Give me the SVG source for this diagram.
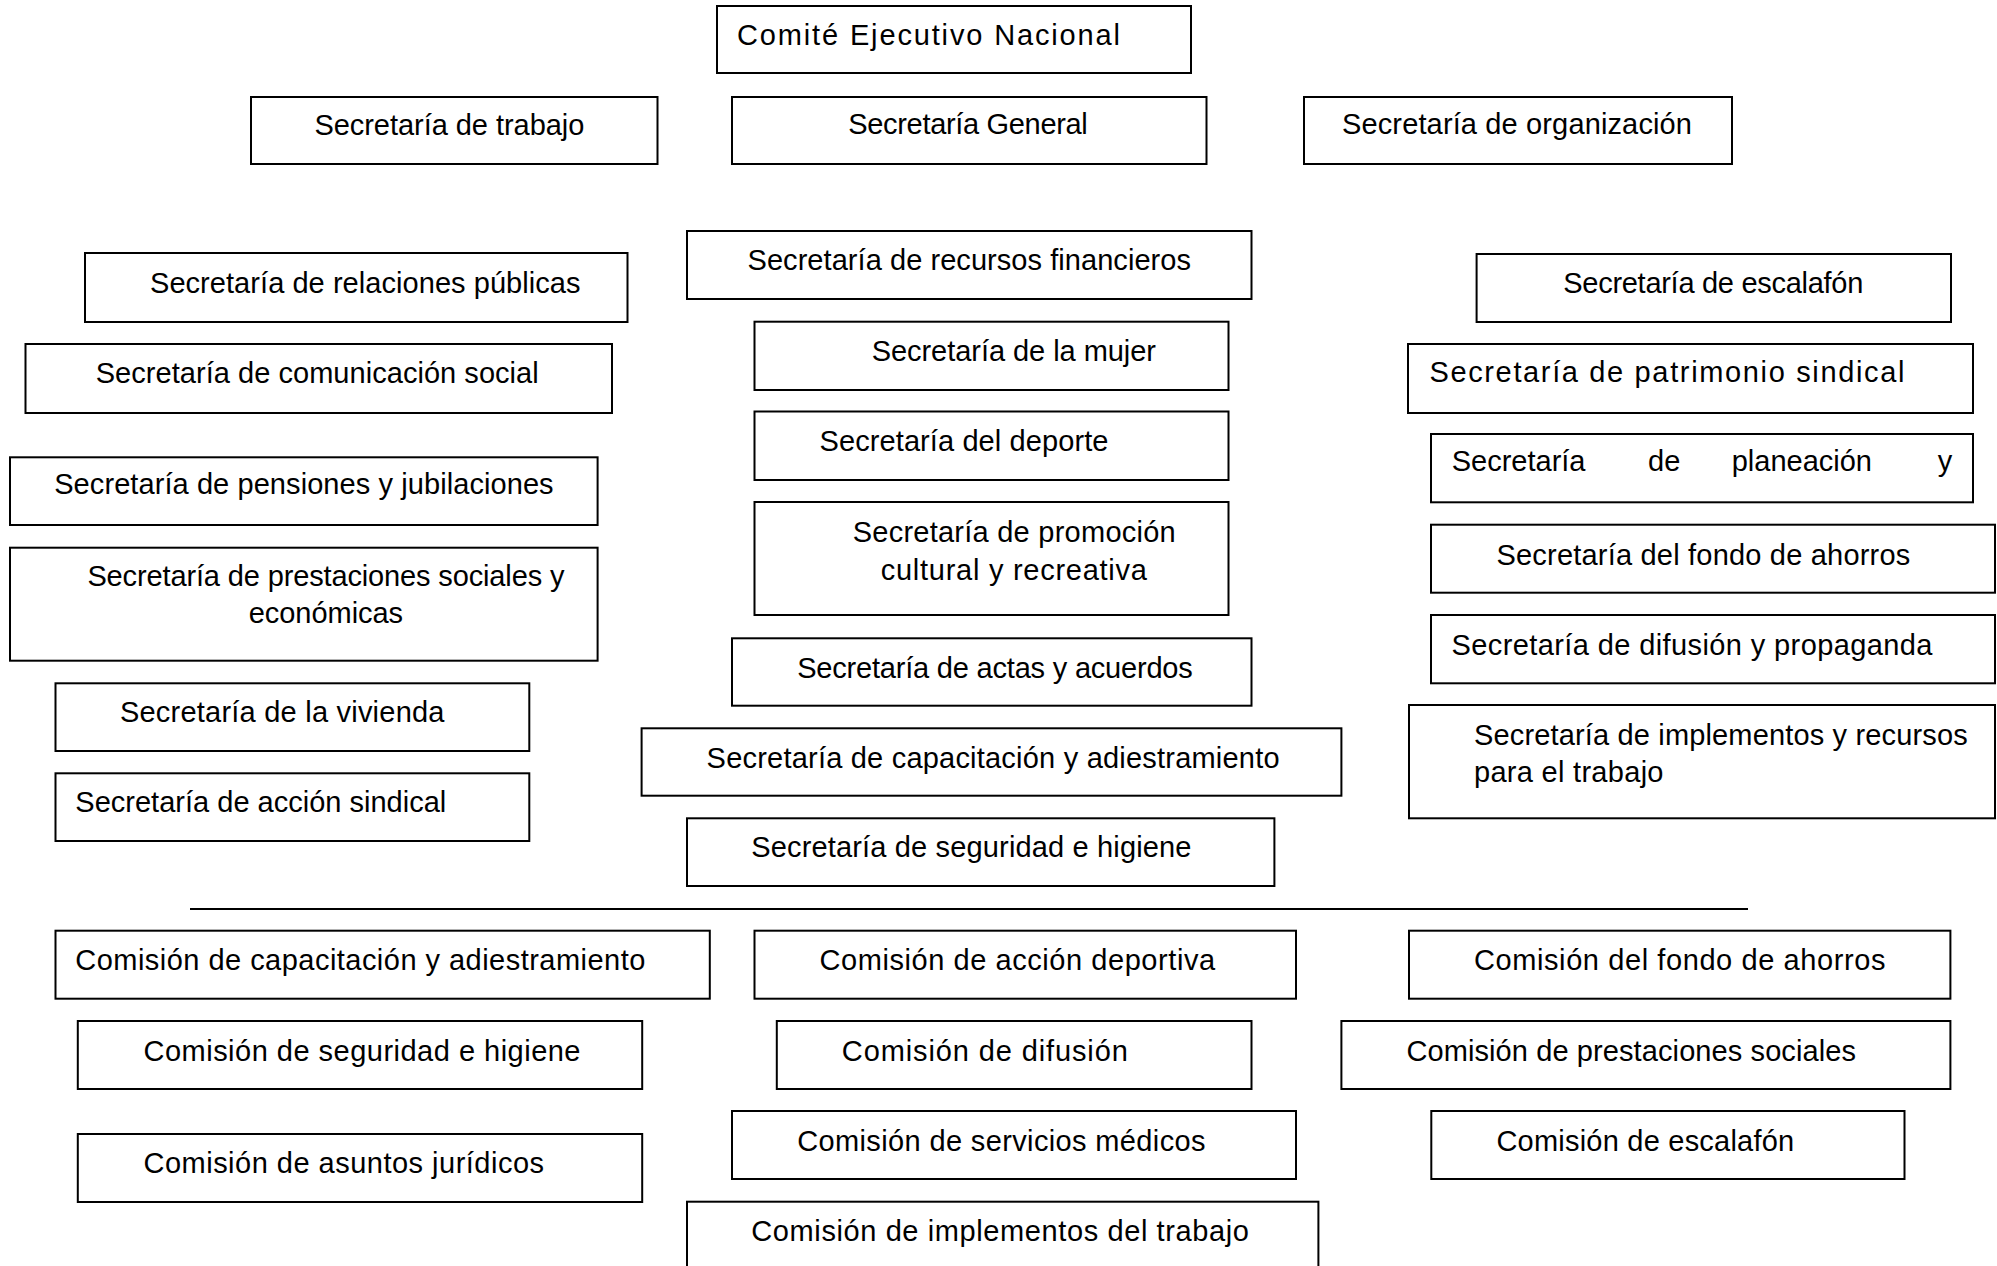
<svg xmlns="http://www.w3.org/2000/svg" width="1997" height="1266" viewBox="0 0 1997 1266">
<style>
.b{fill:#fff;stroke:#000;stroke-width:2}
.t{font-family:"Liberation Sans",Arial,sans-serif;font-size:29px;fill:#000}
.ln{stroke:#000;stroke-width:2;fill:none}
</style>
<rect x="0" y="0" width="1997" height="1266" fill="#fff"/>
<g id="connectors">
<line class="ln" x1="190" y1="909" x2="1748" y2="909"/>
</g>
<g id="comite"><rect class="b" x="717" y="6" width="474" height="67"/><text class="t" x="737" y="45" textLength="383" lengthAdjust="spacing">Comité Ejecutivo Nacional</text></g>
<g id="trabajo"><rect class="b" x="251" y="97" width="406.5" height="67"/><text class="t" x="314.4" y="135" textLength="270" lengthAdjust="spacing">Secretaría de trabajo</text></g>
<g id="general"><rect class="b" x="732" y="97" width="474.5" height="67"/><text class="t" x="848.3" y="134" textLength="239.5" lengthAdjust="spacing">Secretaría General</text></g>
<g id="organizacion"><rect class="b" x="1304" y="97" width="428" height="67"/><text class="t" x="1342" y="134" textLength="350" lengthAdjust="spacing">Secretaría de organización</text></g>
<g id="recursos"><rect class="b" x="687" y="231" width="564.5" height="68"/><text class="t" x="747.5" y="269.5" textLength="443.5" lengthAdjust="spacing">Secretaría de recursos financieros</text></g>
<g id="relaciones"><rect class="b" x="85" y="253" width="542.5" height="69"/><text class="t" x="150" y="293" textLength="430.5" lengthAdjust="spacing">Secretaría de relaciones públicas</text></g>
<g id="escalafon"><rect class="b" x="1476.6" y="254" width="474.4" height="68"/><text class="t" x="1563.3" y="293" textLength="300" lengthAdjust="spacing">Secretaría de escalafón</text></g>
<g id="comunicacion"><rect class="b" x="25.5" y="344" width="586.5" height="69"/><text class="t" x="95.7" y="383" textLength="443" lengthAdjust="spacing">Secretaría de comunicación social</text></g>
<g id="patrimonio"><rect class="b" x="1408" y="344" width="565" height="69"/><text class="t" x="1429.4" y="381.7" textLength="475" lengthAdjust="spacing">Secretaría de patrimonio sindical</text></g>
<g id="mujer"><rect class="b" x="754.5" y="321.7" width="474" height="68.3"/><text class="t" x="871.7" y="360.5" textLength="284.3" lengthAdjust="spacing">Secretaría de la mujer</text></g>
<g id="pensiones"><rect class="b" x="10" y="457.3" width="587.6" height="67.7"/><text class="t" x="54.2" y="494.3" textLength="499.4" lengthAdjust="spacing">Secretaría de pensiones y jubilaciones</text></g>
<g id="deporte"><rect class="b" x="754.5" y="411.5" width="474" height="68.5"/><text class="t" x="819.5" y="450.5" textLength="289" lengthAdjust="spacing">Secretaría del deporte</text></g>
<g id="planeacion"><rect class="b" x="1431" y="434" width="542" height="68.3"/><text class="t" y="471"><tspan x="1451.7">Secretaría</tspan><tspan x="1648">de</tspan><tspan x="1731.7">planeación</tspan><tspan x="1937.7">y</tspan></text></g>
<g id="promocion"><rect class="b" x="754.5" y="502" width="474" height="113"/><text class="t" x="852.7" y="541.5" textLength="323" lengthAdjust="spacing">Secretaría de promoción</text><text class="t" x="880.7" y="579.5" textLength="266.2" lengthAdjust="spacing">cultural y recreativa</text></g>
<g id="fondo"><rect class="b" x="1431" y="524.7" width="564" height="68"/><text class="t" x="1496.5" y="564.5" textLength="413.8" lengthAdjust="spacing">Secretaría del fondo de ahorros</text></g>
<g id="prestaciones"><rect class="b" x="10" y="547.7" width="587.6" height="113"/><text class="t" x="87.4" y="585.7" textLength="477" lengthAdjust="spacing">Secretaría de prestaciones sociales y</text><text class="t" x="248.7" y="623.3" textLength="154.4" lengthAdjust="spacing">económicas</text></g>
<g id="difusion"><rect class="b" x="1431" y="615" width="564" height="68.3"/><text class="t" x="1451.5" y="655" textLength="481" lengthAdjust="spacing">Secretaría de difusión y propaganda</text></g>
<g id="actas"><rect class="b" x="732" y="638.3" width="519.5" height="67.4"/><text class="t" x="797.2" y="677.5" textLength="395.6" lengthAdjust="spacing">Secretaría de actas y acuerdos</text></g>
<g id="vivienda"><rect class="b" x="55.5" y="683.3" width="473.8" height="67.7"/><text class="t" x="119.9" y="721.7" textLength="324.6" lengthAdjust="spacing">Secretaría de la vivienda</text></g>
<g id="implementos"><rect class="b" x="1409" y="705" width="586" height="113.3"/><text class="t" x="1474" y="745" textLength="493.7" lengthAdjust="spacing">Secretaría de implementos y recursos</text><text class="t" x="1474" y="781.7" textLength="189.5" lengthAdjust="spacing">para el trabajo</text></g>
<g id="capacitacion"><rect class="b" x="641.6" y="728.3" width="699.8" height="67.4"/><text class="t" x="706.6" y="767.5" textLength="573" lengthAdjust="spacing">Secretaría de capacitación y adiestramiento</text></g>
<g id="accion"><rect class="b" x="55.5" y="773.3" width="473.8" height="67.7"/><text class="t" x="75.3" y="811.7" textLength="371" lengthAdjust="spacing">Secretaría de acción sindical</text></g>
<g id="seguridad"><rect class="b" x="687" y="818.3" width="587.4" height="67.7"/><text class="t" x="751.3" y="857" textLength="440.2" lengthAdjust="spacing">Secretaría de seguridad e higiene</text></g>
<g id="c-capacitacion"><rect class="b" x="55.5" y="930.7" width="654.3" height="68"/><text class="t" x="75.3" y="970" textLength="570" lengthAdjust="spacing">Comisión de capacitación y adiestramiento</text></g>
<g id="c-deportiva"><rect class="b" x="754.5" y="930.7" width="541.5" height="68"/><text class="t" x="819.5" y="970" textLength="395.6" lengthAdjust="spacing">Comisión de acción deportiva</text></g>
<g id="c-fondo"><rect class="b" x="1409" y="930.7" width="541.4" height="68"/><text class="t" x="1474" y="970" textLength="411.4" lengthAdjust="spacing">Comisión del fondo de ahorros</text></g>
<g id="c-seguridad"><rect class="b" x="77.8" y="1021" width="564.4" height="68"/><text class="t" x="143.5" y="1061" textLength="437" lengthAdjust="spacing">Comisión de seguridad e higiene</text></g>
<g id="c-difusion"><rect class="b" x="776.8" y="1021" width="474.7" height="68"/><text class="t" x="841.8" y="1061" textLength="286" lengthAdjust="spacing">Comisión de difusión</text></g>
<g id="c-prestaciones"><rect class="b" x="1341.4" y="1021" width="609" height="68"/><text class="t" x="1406.4" y="1061" textLength="449.6" lengthAdjust="spacing">Comisión de prestaciones sociales</text></g>
<g id="c-medicos"><rect class="b" x="732" y="1111" width="564" height="68"/><text class="t" x="797.2" y="1151" textLength="408.3" lengthAdjust="spacing">Comisión de servicios médicos</text></g>
<g id="c-escalafon"><rect class="b" x="1431.3" y="1111" width="473.2" height="68"/><text class="t" x="1496.4" y="1151" textLength="297.8" lengthAdjust="spacing">Comisión de escalafón</text></g>
<g id="c-juridicos"><rect class="b" x="77.8" y="1134" width="564.4" height="68"/><text class="t" x="143.5" y="1173" textLength="400.5" lengthAdjust="spacing">Comisión de asuntos jurídicos</text></g>
<g id="c-implementos"><rect class="b" x="687" y="1201.7" width="631.4" height="90"/><text class="t" x="751.3" y="1241" textLength="497.6" lengthAdjust="spacing">Comisión de implementos del trabajo</text></g>
</svg>
